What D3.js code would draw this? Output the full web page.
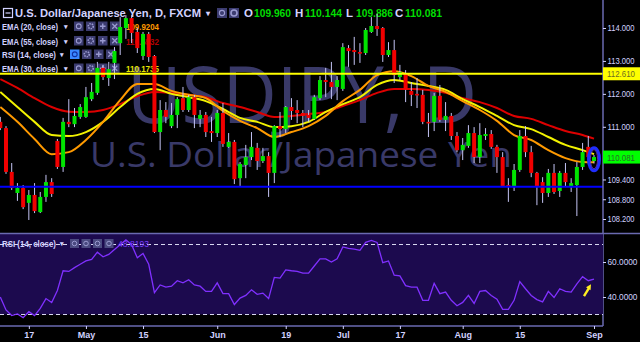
<!DOCTYPE html>
<html><head><meta charset="utf-8">
<script src="https://cdn.jsdelivr.net/npm/d3@7"></script>
<style>
html,body{margin:0;padding:0;background:#000;overflow:hidden}
svg{display:block}
</style></head><body>
<svg id="c" width="640" height="342"></svg>
<script>
// ---------- DATA ----------
const startDate = [2017, 3, 10], endDate = [2017, 8, 1];
const open = [111.15,110.96,109.63,108.99,109.14,108.69,108.93,108.41,108.87,109.32,
110.57,109.78,111.15,111.08,111.30,111.30,111.84,112.03,112.79,112.48,
112.94,113.54,114.00,114.30,113.88,113.15,113.82,113.15,110.84,111.51,
111.02,111.36,111.87,111.51,111.90,111.24,111.36,110.87,110.81,111.42,
110.39,110.54,109.44,109.84,110.08,110.36,109.96,110.11,109.60,111.02,
110.93,111.60,111.51,111.42,111.36,111.24,111.87,112.42,112.36,112.21,
112.15,113.39,113.33,113.27,113.24,113.88,114.06,114.00,113.18,113.33,
112.51,112.60,112.09,112.00,111.97,111.15,111.15,111.94,111.21,111.33,
110.72,110.29,110.42,110.81,110.08,110.72,110.78,110.39,110.08,109.23,
109.17,109.69,110.72,110.23,109.60,109.32,108.99,109.60,109.05,109.60,
109.17,109.23,109.78,110.39,109.960];
const high = [111.30,111.02,109.90,109.29,109.23,109.08,109.29,109.02,109.54,109.44,
110.63,111.27,111.84,111.57,111.69,112.21,112.33,112.97,112.88,112.97,
113.42,114.33,114.39,114.39,114.00,113.88,113.88,113.18,111.81,111.75,
111.72,111.90,112.21,111.97,111.97,111.51,111.45,111.30,111.51,111.72,
110.81,110.60,109.93,110.45,110.84,110.51,110.36,110.23,111.05,111.45,
111.63,111.87,111.81,111.51,111.51,111.97,112.54,112.79,112.97,112.54,
113.54,113.48,113.73,113.54,114.00,114.33,114.43,114.03,113.57,113.64,
112.88,112.72,112.36,112.48,112.12,111.42,112.03,112.27,111.75,111.42,
110.84,110.66,111.05,110.99,111.11,110.96,110.90,110.45,110.23,109.44,
109.87,110.90,111.02,110.42,109.63,109.47,109.72,109.87,109.66,109.90,
109.44,109.93,110.51,110.72,110.144];
const low = [110.90,109.57,109.08,108.75,108.50,108.17,108.38,108.38,108.72,108.87,
109.72,109.63,110.99,110.99,111.24,111.27,111.78,111.97,112.42,112.24,
112.45,113.18,113.67,113.54,113.24,113.03,112.97,110.81,110.29,111.11,
110.96,110.96,111.45,111.45,110.96,110.99,110.69,110.54,110.69,110.39,
110.36,109.26,109.20,109.44,109.99,109.69,109.90,108.87,109.29,110.69,
110.81,111.21,111.11,110.99,111.15,111.21,111.81,111.90,111.84,111.81,
112.09,112.82,112.88,112.94,113.18,113.85,113.76,112.97,113.12,112.33,
112.42,111.75,111.63,111.57,111.08,110.69,110.87,111.15,110.87,110.60,
110.23,109.99,110.36,109.90,109.90,110.60,110.33,109.60,109.17,108.72,
109.05,109.63,110.08,109.47,108.62,108.69,108.87,108.96,108.87,109.20,
109.02,108.29,109.69,110.05,109.886];
const close = [110.96,109.63,109.14,109.14,108.56,108.93,108.44,108.87,109.32,108.96,
109.78,111.15,111.08,111.33,111.60,111.90,112.06,112.79,112.51,112.75,
113.30,114.03,114.30,113.85,113.39,113.82,113.12,110.84,111.51,111.30,
111.36,111.84,111.51,111.90,111.36,111.36,110.84,110.81,111.42,110.48,
110.54,109.41,109.87,110.08,110.39,109.96,110.11,109.60,111.02,110.93,
111.60,111.48,111.42,111.33,111.27,111.90,112.42,112.36,112.21,112.42,
113.42,113.30,113.27,113.24,113.94,114.06,113.97,113.18,113.33,112.57,
112.66,112.12,111.97,111.97,111.15,111.11,111.94,111.21,111.33,110.72,
110.29,110.45,110.81,110.08,110.75,110.78,110.39,110.08,109.20,109.17,
109.69,110.72,110.23,109.60,109.20,108.99,109.60,109.02,109.60,109.32,
109.29,109.78,110.23,110.08,110.081];

const emaIdx = [0,3,6,9,12,15,18,21,24,27,30,33,36,39,42,45,48,51,54,57,60,63,66,69,72,75,78,81,84,87,90,93,96,99,102,104];
const ema55 = [112.45,112.18,111.87,111.60,111.46,111.45,111.51,111.69,111.93,112.06,112.03,111.97,111.90,111.72,111.60,111.45,111.30,111.33,111.39,111.45,111.63,111.81,112.03,112.15,112.15,112.12,112.03,111.87,111.75,111.57,111.33,111.24,111.05,110.87,110.75,110.64];
const ema30 = [112.06,111.60,111.15,110.75,110.72,110.84,111.15,111.60,112.00,112.15,112.00,111.90,111.78,111.54,111.27,111.15,110.99,111.02,111.15,111.45,111.69,111.90,112.27,112.42,112.33,112.24,112.12,111.84,111.60,111.33,111.05,110.93,110.69,110.45,110.29,110.17];
const ema20 = [111.60,111.15,110.63,110.17,110.23,110.60,111.15,111.81,112.30,112.30,112.09,111.97,111.87,111.48,111.18,110.96,110.69,110.84,111.02,111.33,111.78,112.12,112.57,112.69,112.54,112.24,112.06,111.78,111.51,111.18,110.75,110.60,110.29,110.05,109.93,109.92];

const rsi14 = [40.0,32.6,29.4,30.3,28.2,31.6,29.4,33.5,39.1,36.9,
43.7,55.0,54.6,56.8,58.7,60.6,61.5,65.6,63.0,64.3,
67.1,69.9,72.7,69.9,62.4,64.9,58.7,42.5,46.9,45.6,
46.2,49.3,48.1,49.9,46.9,46.2,43.2,43.2,48.1,41.9,
41.9,35.7,39.4,40.9,44.1,41.5,42.2,39.1,51.2,50.8,
55.5,55.0,54.6,53.6,53.6,57.7,61.8,61.8,60.0,61.8,
68.6,67.8,67.4,66.7,71.2,72.3,71.2,59.6,60.6,52.5,
52.1,46.5,45.6,45.6,38.1,38.1,47.8,41.9,42.8,38.1,
35.0,36.9,40.9,36.3,43.2,43.7,40.9,38.7,32.9,32.9,
38.1,48.8,44.7,40.9,38.5,37.2,43.2,39.7,44.7,43.2,
42.8,47.5,51.6,49.3,50.2];

const levels = [112.61, 109.18];
const levelColors = ["#ffff00", "#0000ff"];
const priceTicks = [114, 113, 112, 111, 109.4, 108.8, 108.2];
const rsiTicks = [60, 40];
const rsiBands = [70, 30];
const tickDates = ["2017-04-17","2017-05-01","2017-05-15","2017-06-01","2017-06-19","2017-07-03","2017-07-17","2017-08-01","2017-08-15","2017-09-01"];
const tickLabels = ["17","May","15","Jun","19","Jul","17","Aug","15","Sep"];
const ohlcLetters = ["O","H","L","C"];
const ohlcValues = ["109.960","110.144","109.886","110.081"];
const legendRows = ["EMA (20, close)","EMA (55, close)","RSI (14, close)","EMA (30, close)"];
const legendValues = ["109.9204","110.6532","","110.1735"];
const legendColors = ["#ff9900","#b40000","","#e6e600"];
const rsiValue = "48.8193";

// ---------- SETUP ----------
const fmtDate = d3.utcFormat("%Y-%m-%d");
const dates = d3.utcDay.range(new Date(Date.UTC(...startDate)), new Date(Date.UTC(endDate[0], endDate[1], endDate[2] + 1)))
  .filter(d => d.getUTCDay() % 6 !== 0).map(fmtDate);
const N = close.length;

const svg = d3.select("#c");
const FONT = "'Liberation Sans', Arial, sans-serif";
const LAV = "#d2d2ff";
const AXC = "#6a6ab0";

const x = d3.scaleLinear().domain([0, N - 1]).range([0.3, 594]);
const y = d3.scaleLinear().domain([108.2, 114]).range([219, 28]);
const ry = d3.scaleLinear().domain([40, 60]).range([297, 262]);
const AXX = 603, PANE_TOP = 233.5, BOTTOM = 326;

svg.append("rect").attr("width", 640).attr("height", 342).attr("fill", "#000");

// watermark
svg.append("text").attr("x", 127).attr("y", 123).attr("font-family", "'Open Sans', sans-serif")
  .attr("font-size", 78).attr("fill", "#393968").attr("textLength", 350).attr("lengthAdjust", "spacingAndGlyphs")
  .text("USDJPY, D");
svg.append("text").attr("x", 90).attr("y", 167).attr("font-family", "'Open Sans', sans-serif")
  .attr("font-size", 34).attr("fill", "#393968").attr("textLength", 422).attr("lengthAdjust", "spacingAndGlyphs")
  .text("U.S. Dollar/Japanese Yen");

// legend (top-left)
const lg = svg.append("g").attr("font-family", FONT).attr("font-weight", "bold");
lg.append("rect").attr("x", 3.5).attr("y", 8.5).attr("width", 9).attr("height", 9).attr("fill", "none").attr("stroke", LAV).attr("stroke-width", 1.2);
lg.append("line").attr("x1", 5.5).attr("x2", 10.5).attr("y1", 13).attr("y2", 13).attr("stroke", LAV).attr("stroke-width", 1.2);
lg.append("text").attr("x", 15).attr("y", 17).attr("font-size", 11.2).attr("fill", LAV)
  .attr("textLength", 186).attr("lengthAdjust", "spacingAndGlyphs").text("U.S. Dollar/Japanese Yen, D, FXCM");
lg.append("text").attr("x", 206).attr("y", 16).attr("font-size", 8).attr("fill", LAV).text("▾");
[217, 229].forEach((bx, k) => {
  lg.append("rect").attr("x", bx).attr("y", 8).attr("width", 10).attr("height", 10).attr("fill", "#3c3c70");
  lg.append("circle").attr("cx", bx + 5).attr("cy", 13).attr("r", k ? 3 : 2.6).attr("fill", "none").attr("stroke", "#9a9ad0").attr("stroke-width", k ? 1.6 : 1.1);
});
const ohlcX = [244, 295, 346, 395];
ohlcLetters.forEach((L, k) => {
  lg.append("text").attr("x", ohlcX[k]).attr("y", 17).attr("font-size", 11.5).attr("fill", LAV).text(L);
  lg.append("text").attr("x", ohlcX[k] + 10).attr("y", 17).attr("font-size", 11).attr("fill", "#00dd00")
    .attr("textLength", 37).attr("lengthAdjust", "spacingAndGlyphs").text(ohlcValues[k]);
});
const rowY = [30, 44.5, 58, 72];
legendRows.forEach((lab, k) => {
  const by = rowY[k];
  lg.append("text").attr("x", 2).attr("y", by).attr("font-size", 8.2).attr("fill", LAV)
    .attr("textLength", k === 2 ? 54 : 56).attr("lengthAdjust", "spacingAndGlyphs").text(lab);
  lg.append("text").attr("x", k === 2 ? 60 : 63.5).attr("y", by - 1).attr("font-size", 7).attr("fill", LAV).text("▾");
  const bx0 = k === 2 ? 70 : 74;
  for (let b = 0; b < 4; b++) {
    const bx = bx0 + b * 12;
    lg.append("rect").attr("x", bx).attr("y", by - 8.5).attr("width", 9.5).attr("height", 9.5)
      .attr("fill", (k === 2 && b === 0) ? "#3a88ff" : "#3c3c70");
    const cx = bx + 4.75, cy = by - 3.75;
    if (b === 0) lg.append("circle").attr("cx", cx).attr("cy", cy).attr("r", 2.4).attr("fill", "none").attr("stroke", (k === 2) ? "#1030a0" : "#9a9ad0").attr("stroke-width", 1.1);
    if (b === 1) lg.append("circle").attr("cx", cx).attr("cy", cy).attr("r", 2.5).attr("fill", "none").attr("stroke", "#9a9ad0").attr("stroke-width", 1.6).attr("stroke-dasharray", "1.5,1");
    if (b === 2) lg.append("path").attr("d", `M${cx-2.8},${cy}H${cx+2.8}M${cx},${cy-2.8}V${cy+2.8}`).attr("stroke", "#9a9ad0").attr("stroke-width", 1.4);
    if (b === 3) lg.append("path").attr("d", `M${cx-2.5},${cy-2.5}L${cx+2.5},${cy+2.5}M${cx+2.5},${cy-2.5}L${cx-2.5},${cy+2.5}`).attr("stroke", "#9a9ad0").attr("stroke-width", 1.3);
  }
  if (legendValues[k]) {
    lg.append("text").attr("x", 126).attr("y", by).attr("font-size", 9.5).attr("fill", legendColors[k])
      .attr("textLength", 33).attr("lengthAdjust", "spacingAndGlyphs").text(legendValues[k]);
  }
});

// EMA lines
const emaLine = d3.line().x(d => x(d[0])).y(d => y(d[1])).curve(d3.curveMonotoneX);
[[ema55, "#dd0000"], [ema30, "#f2f200"], [ema20, "#ff9a00"]].forEach(([arr, col]) => {
  svg.append("path").datum(emaIdx.map((i, k) => [i, arr[k]])).attr("d", emaLine)
    .attr("fill", "none").attr("stroke", col).attr("stroke-width", 2);
});

// candles
const cg = svg.append("g");
const idx = d3.range(N);
cg.selectAll("line.w").data(idx).join("line")
  .attr("x1", i => x(i)).attr("x2", i => x(i))
  .attr("y1", i => y(high[i])).attr("y2", i => y(low[i]))
  .attr("stroke", "#c4c4f4").attr("stroke-width", 1);
cg.selectAll("rect.b").data(idx).join("rect")
  .attr("x", i => x(i) - 2).attr("width", 4)
  .attr("y", i => Math.min(y(open[i]), y(close[i])))
  .attr("height", i => Math.max(1.6, Math.abs(y(open[i]) - y(close[i]))))
  .attr("fill", i => close[i] >= open[i] ? "#00e400" : "#f20000");

// horizontal levels
levels.forEach((v, k) => {
  svg.append("line").attr("x1", 0).attr("x2", AXX).attr("y1", y(v)).attr("y2", y(v))
    .attr("stroke", levelColors[k]).attr("stroke-width", 2);
});

// highlight ellipse around last bar
const lx = x(N - 1), ly = y((high[N - 1] + low[N - 1]) / 2);
svg.append("ellipse").attr("cx", lx).attr("cy", ly).attr("rx", 5.5).attr("ry", 11.5)
  .attr("fill", "none").attr("stroke", "#1f2eff").attr("stroke-width", 3);
svg.append("ellipse").attr("cx", lx).attr("cy", ly).attr("rx", 3.6).attr("ry", 9.6)
  .attr("fill", "none").attr("stroke", "#6a3cd0").attr("stroke-width", 0.8);

// right price axis
svg.append("line").attr("x1", AXX).attr("x2", AXX).attr("y1", 0).attr("y2", BOTTOM).attr("stroke", AXC).attr("stroke-width", 1.5);
const ax = svg.append("g").attr("transform", `translate(${AXX},0)`)
  .call(d3.axisRight(y).tickValues(priceTicks).tickSize(3).tickPadding(1.5).tickFormat(d3.format(".3f")));
ax.select(".domain").remove();
ax.selectAll("line").attr("stroke", LAV);
ax.selectAll("text").attr("fill", LAV).attr("font-family", FONT).attr("font-size", 8.6)
  .attr("textLength", 27).attr("lengthAdjust", "spacingAndGlyphs");

// price label boxes
[[levels[0], "#ffff00", "#6e6e20", d3.format(".3f")(levels[0])], [close[N - 1], "#00ff00", "#2a6a2a", ohlcValues[3]]].forEach(([v, bg, fg, t]) => {
  svg.append("rect").attr("x", AXX).attr("y", y(v) - 6.5).attr("width", 37).attr("height", 13).attr("fill", bg);
  svg.append("text").attr("x", AXX + 4).attr("y", y(v) + 3.5).attr("font-family", FONT).attr("font-size", 8.6)
    .attr("fill", fg).attr("textLength", 28).attr("lengthAdjust", "spacingAndGlyphs").text(t);
});

// RSI pane
svg.append("rect").attr("x", 0).attr("y", PANE_TOP).attr("width", AXX).attr("height", ry(rsiBands[1]) - PANE_TOP).attr("fill", "#1c0a4e");
svg.append("line").attr("x1", 0).attr("x2", 640).attr("y1", PANE_TOP).attr("y2", PANE_TOP).attr("stroke", AXC).attr("stroke-width", 1.5);
rsiBands.forEach(b => {
  svg.append("line").attr("x1", 0).attr("x2", AXX).attr("y1", ry(b)).attr("y2", ry(b))
    .attr("stroke", "#d8d8f0").attr("stroke-width", 1).attr("stroke-dasharray", "4,3");
});
svg.append("path").datum(idx).attr("d", d3.line().x(i => x(i)).y(i => ry(rsi14[i])))
  .attr("fill", "none").attr("stroke", "#8030ff").attr("stroke-width", 1.3);

// RSI legend
const rl = svg.append("g").attr("font-family", FONT).attr("font-weight", "bold");
rl.append("text").attr("x", 2).attr("y", 247).attr("font-size", 8.2).attr("fill", LAV)
  .attr("textLength", 54).attr("lengthAdjust", "spacingAndGlyphs").text(legendRows[2]);
rl.append("text").attr("x", 60).attr("y", 246).attr("font-size", 7).attr("fill", LAV).text("▾");
for (let b = 0; b < 4; b++) {
  const bx = 70 + b * 11.5;
  rl.append("rect").attr("x", bx).attr("y", 239).attr("width", 9).attr("height", 9).attr("fill", "#4a4a80");
  rl.append("circle").attr("cx", bx + 4.5).attr("cy", 243.5).attr("r", 2.3).attr("fill", "none").attr("stroke", "#9a9ad0").attr("stroke-width", 1);
}
rl.append("text").attr("x", 118).attr("y", 247).attr("font-size", 8.6).attr("font-weight", "normal").attr("fill", "#7a3cff")
  .attr("textLength", 31).attr("lengthAdjust", "spacingAndGlyphs").text(rsiValue);

// yellow arrow in RSI pane
const tipX = x(N - 1) - 3, tipY = ry(rsi14[N - 1]) + 5;
const tailX = tipX - 7, tailY = tipY + 12;
svg.append("line").attr("x1", tailX).attr("y1", tailY).attr("x2", tipX - 1.5).attr("y2", tipY + 3)
  .attr("stroke", "#ffee22").attr("stroke-width", 2.4);
svg.append("path").attr("d", `M${tipX},${tipY}L${tipX - 5},${tipY + 3}L${tipX - 0.5},${tipY + 6}Z`).attr("fill", "#ffee22");

// RSI right axis
const rax = svg.append("g").attr("transform", `translate(${AXX},0)`)
  .call(d3.axisRight(ry).tickValues(rsiTicks).tickSize(3).tickPadding(1.5).tickFormat(d3.format(".4f")));
rax.select(".domain").remove();
rax.selectAll("line").attr("stroke", LAV);
rax.selectAll("text").attr("fill", LAV).attr("font-family", FONT).attr("font-size", 8.6)
  .attr("textLength", 30).attr("lengthAdjust", "spacingAndGlyphs");

// bottom axis
svg.append("line").attr("x1", 0).attr("x2", AXX).attr("y1", BOTTOM).attr("y2", BOTTOM).attr("stroke", AXC).attr("stroke-width", 1.5);
const tickIdx = tickDates.map(d => dates.indexOf(d));
const bx = svg.append("g").attr("transform", `translate(0,${BOTTOM})`)
  .call(d3.axisBottom(x).tickValues(tickIdx).tickSize(3).tickPadding(3).tickFormat((d, k) => tickLabels[k]));
bx.select(".domain").remove();
bx.selectAll("line").attr("stroke", LAV);
bx.selectAll("text").attr("fill", LAV).attr("font-family", FONT).attr("font-size", 9).attr("font-weight", "bold");
</script>
</body></html>
